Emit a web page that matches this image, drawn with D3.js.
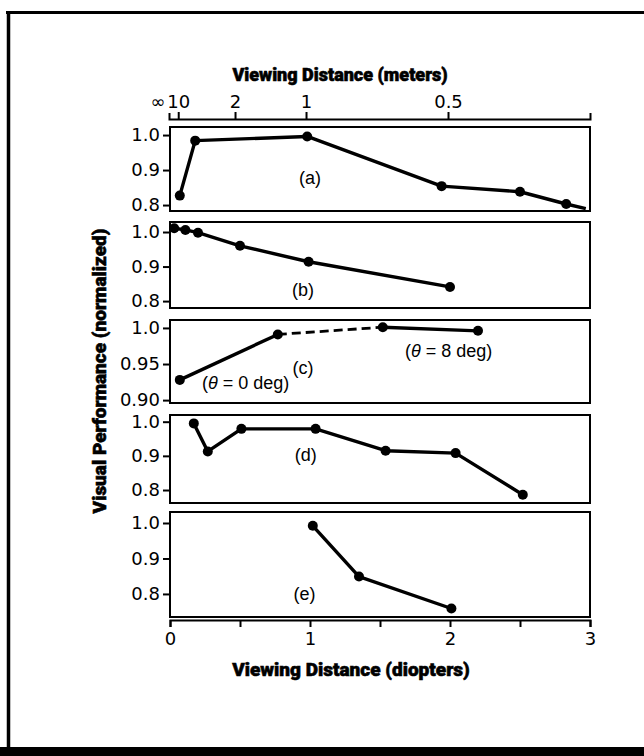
<!DOCTYPE html>
<html><head><meta charset="utf-8">
<script src="https://cdn.jsdelivr.net/npm/d3@7"></script>
<style>body{margin:0;background:#fff} svg{display:block}</style>
</head><body>
<script>
// ---------------- data ----------------
const panelNames = ["(a)", "(b)", "(c)", "(d)", "(e)"];
const aX = [0.07, 0.18, 0.98, 1.94, 2.50, 2.83];
const aY = [0.827, 0.984, 0.996, 0.854, 0.838, 0.803];
const aTailX = [2.97];          // line continues past last dot
const aTailY = [0.790];
const bX = [0.03, 0.11, 0.20, 0.50, 0.99, 2.00];
const bY = [1.011, 1.006, 0.998, 0.960, 0.914, 0.841];
const cX = [0.07, 0.77, 1.52, 2.20];
const cY = [0.928, 0.991, 1.001, 0.996];
const cSegmentStyle = ["solid", "dashed", "solid"];
const dX = [0.17, 0.27, 0.51, 1.04, 1.54, 2.04, 2.52];
const dY = [0.995, 0.913, 0.979, 0.979, 0.915, 0.908, 0.786];
const eX = [1.02, 1.35, 2.01];
const eY = [0.992, 0.849, 0.759];

const yTicksStd = [0.8, 0.9, 1.0];
const yTickLabelsStd = ["0.8", "0.9", "1.0"];
const yTicksC = [0.90, 0.95, 1.0];
const yTickLabelsC = ["0.90", "0.95", "1.0"];

const bottomTicks = [0, 0.5, 1, 1.5, 2, 2.5, 3];
const bottomTickLabels = ["0", "", "1", "", "2", "", "3"];
const topTickDiopters = [0.1, 0.5, 1, 2];
const topTickLabels = ["10", "2", "1", "0.5"];
const topInfinityLabel = "\u221e";

const titleTop = "Viewing Distance (meters)";
const titleBottom = "Viewing Distance (diopters)";
const titleY = "Visual Performance (normalized)";

// ---------------- layout ----------------
const W = 644, H = 756;
const svg = d3.select("body").append("svg").attr("width", W).attr("height", H);
const tickFont = "'DejaVu Sans', Arial, sans-serif";
const labelFont = "'Liberation Sans', Arial, Helvetica, sans-serif";
const boldFont = "Roboto, Inter, 'Liberation Sans', sans-serif";

// outer frame
svg.append("line").attr("x1", 6).attr("x2", W).attr("y1", 12.5).attr("y2", 12.5)
  .attr("stroke", "#000").attr("stroke-width", 3);
svg.append("line").attr("x1", 8.5).attr("x2", 8.5).attr("y1", 11).attr("y2", 750)
  .attr("stroke", "#000").attr("stroke-width", 3.5);
svg.append("rect").attr("x", 0).attr("y", 747).attr("width", W).attr("height", 9).attr("fill", "#000");

const x = d3.scaleLinear().domain([0, 3]).range([170, 590]);
const xTop = d3.scaleLinear().domain([0.035, 3]).range([169, 590]);

const panels = [
  {top: 127, bottom: 211, dom: [0.783, 1.023], ticks: yTicksStd, labels: yTickLabelsStd},
  {top: 222, bottom: 308, dom: [0.780, 1.029], ticks: yTicksStd, labels: yTickLabelsStd},
  {top: 320, bottom: 403, dom: [0.896, 1.011], ticks: yTicksC, labels: yTickLabelsC},
  {top: 415, bottom: 503, dom: [0.762, 1.0196], ticks: yTicksStd, labels: yTickLabelsStd},
  {top: 512, bottom: 617, dom: [0.735, 1.031], ticks: yTicksStd, labels: yTickLabelsStd}
];
const series = [
  {xs: aX, ys: aY, tailX: aTailX, tailY: aTailY},
  {xs: bX, ys: bY},
  {xs: cX, ys: cY, segStyle: cSegmentStyle},
  {xs: dX, ys: dY},
  {xs: eX, ys: eY}
];
const labelPos = [
  {x: 1.0, v: 0.875}, {x: 0.95, v: 0.828}, null, {x: 0.97, v: 0.900}, {x: 0.96, v: 0.795}
];

panels.forEach((p, i) => {
  const y = d3.scaleLinear().domain(p.dom).range([p.bottom, p.top]);
  const g = svg.append("g");
  g.append("rect").attr("x", 170).attr("y", p.top).attr("width", 420).attr("height", p.bottom - p.top)
    .attr("fill", "none").attr("stroke", "#000").attr("stroke-width", 2);
  const ax = g.append("g").attr("transform", "translate(170,0)")
    .call(d3.axisLeft(y).tickValues(p.ticks).tickFormat((d, k) => p.labels[k]).tickSize(7).tickSizeOuter(0).tickPadding(3));
  ax.select(".domain").remove();
  ax.selectAll("line").attr("stroke", "#000").attr("stroke-width", 2);
  ax.selectAll("text").attr("font-family", tickFont).attr("font-size", 18).attr("fill", "#000");

  const s = series[i];
  const pts = s.xs.map((xv, k) => [xv, s.ys[k]]);
  const line = d3.line().x(d => x(d[0])).y(d => y(d[1]));
  if (s.segStyle) {
    s.segStyle.forEach((st, k) => {
      g.append("path").attr("d", line([pts[k], pts[k + 1]])).attr("fill", "none")
        .attr("stroke", "#000").attr("stroke-width", st === "dashed" ? 2.8 : 3.4)
        .attr("stroke-dasharray", st === "dashed" ? "9,5" : null);
    });
  } else {
    let lp = pts.slice();
    if (s.tailX) s.tailX.forEach((tx, k) => lp.push([tx, s.tailY[k]]));
    g.append("path").attr("d", line(lp)).attr("fill", "none").attr("stroke", "#000")
      .attr("stroke-width", 3.4).attr("stroke-linejoin", "round");
  }
  g.selectAll("circle.pt").data(pts).join("circle").attr("class", "pt")
    .attr("cx", d => x(d[0])).attr("cy", d => y(d[1])).attr("r", 5).attr("fill", "#000");

  if (labelPos[i]) {
    g.append("text").attr("x", x(labelPos[i].x)).attr("y", y(labelPos[i].v)).attr("text-anchor", "middle")
      .attr("dominant-baseline", "middle").attr("font-family", labelFont).attr("font-size", 18).text(panelNames[i]);
  } else {
    g.append("text").attr("x", x(0.95)).attr("y", y(0.9425)).attr("text-anchor", "middle")
      .attr("dominant-baseline", "middle").attr("font-family", labelFont).attr("font-size", 18).text(panelNames[i]);
    const t0 = g.append("text").attr("x", x(0.54)).attr("y", y(0.922)).attr("text-anchor", "middle")
      .attr("dominant-baseline", "middle").attr("font-family", labelFont).attr("font-size", 18);
    t0.append("tspan").text("(");
    t0.append("tspan").attr("font-style", "italic").text("\u03b8");
    t0.append("tspan").text(" = 0 deg)");
    const t8 = g.append("text").attr("x", x(1.99)).attr("y", y(0.967)).attr("text-anchor", "middle")
      .attr("dominant-baseline", "middle").attr("font-family", labelFont).attr("font-size", 18);
    t8.append("tspan").text("(");
    t8.append("tspan").attr("font-style", "italic").text("\u03b8");
    t8.append("tspan").text(" = 8 deg)");
  }
});

// bottom axis
const bax = svg.append("g").attr("transform", "translate(0,620)")
  .call(d3.axisBottom(x).tickValues(bottomTicks).tickFormat((d, k) => bottomTickLabels[k]).tickSize(7).tickSizeOuter(7).tickPadding(5));
bax.selectAll("line,path").attr("stroke", "#000").attr("stroke-width", 2);
bax.selectAll("text").attr("font-family", tickFont).attr("font-size", 18).attr("fill", "#000");

// top axis
const tax = svg.append("g").attr("transform", "translate(0,119)")
  .call(d3.axisTop(xTop).tickValues(topTickDiopters).tickFormat((d, k) => topTickLabels[k]).tickSize(7).tickSizeOuter(6).tickPadding(4));
tax.selectAll("line,path").attr("stroke", "#000").attr("stroke-width", 2);
tax.selectAll("text").attr("font-family", tickFont).attr("font-size", 18).attr("fill", "#000");
svg.append("text").attr("x", xTop(0.035) - 11).attr("y", 108).attr("text-anchor", "middle")
  .attr("font-family", tickFont).attr("font-size", 18).text(topInfinityLabel);

// titles
function boldTitle(sel) {
  return sel.attr("text-anchor", "middle").attr("font-family", boldFont).attr("font-weight", 900)
    .attr("font-size", 18).attr("stroke", "#000").attr("stroke-width", 0.6).attr("fill", "#000");
}
boldTitle(svg.append("text").attr("x", 340).attr("y", 81)).text(titleTop);
boldTitle(svg.append("text").attr("x", 351).attr("y", 676)).attr("font-size", 19).text(titleBottom);
boldTitle(svg.append("text").attr("transform", "translate(106,371) rotate(-90)")).attr("font-size", 19).text(titleY);
</script>
</body></html>
